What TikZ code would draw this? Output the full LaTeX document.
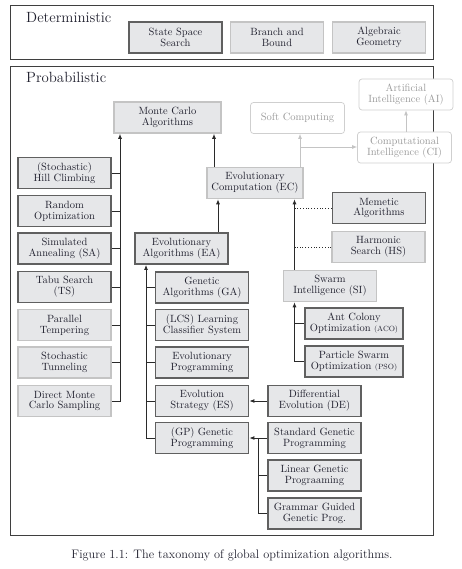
\documentclass[tikz,border=0pt]{standalone}
\usetikzlibrary{arrows.meta,calc}
\definecolor{boxfill}{HTML}{E6E7E9}
\definecolor{darkedge}{HTML}{606060}
\definecolor{lightedge}{HTML}{C4C4C4}
\definecolor{softedge}{HTML}{CFCFCF}
\definecolor{softtext}{HTML}{9A9A9A}
\definecolor{txt}{HTML}{20202E}
\definecolor{linec}{HTML}{2A2A2A}
\begin{document}
\begin{tikzpicture}[x=1pt,y=-1pt,
  base/.style={rectangle, fill=boxfill, align=center, inner sep=0pt, minimum height=31pt, minimum width=93pt, text=txt, font=\fontsize{10.5}{10.9}\selectfont},
  darkbox/.style={base, draw=darkedge, line width=1.8pt},
  lightbox/.style={base, draw=lightedge, line width=1.6pt},
  softbox/.style={rectangle, rounded corners=3pt, fill=white, draw=softedge, line width=0.7pt, align=center, inner sep=0pt, minimum height=31pt, minimum width=94pt, text=softtext, font=\fontsize{10.5}{10.9}\selectfont},
  frame/.style={draw=linec!90, line width=0.8pt},
  heading/.style={font=\fontsize{14.8}{16}\selectfont, text=txt, anchor=west, inner sep=0pt},
  conn/.style={draw=linec, line width=0.9pt},
  arr/.style={conn, -{Latex[length=5pt,width=4pt]}},
  softarr/.style={draw=lightedge, line width=0.9pt, -{Latex[length=5pt,width=4pt]}},
  dotconn/.style={draw=linec, line width=0.8pt, dotted}
]
\useasboundingbox (0,0) rectangle (462,569);
\fill[white] (0,0) rectangle (462,569);

% frames
\draw[frame] (10,5) rectangle (433,59);
\draw[frame] (10,66) rectangle (433,535);
\node[heading] (det) at (26,17.5) {Deterministic};
\node[heading] (prob) at (26,77.5) {Probabilistic};

% deterministic
\node[darkbox] (SSS) at (175.5,37.5) {State Space\\Search};
\node[lightbox] (BB) at (277,37.5) {Branch and\\Bound};
\node[lightbox] (AG) at (379,37.5) {Algebraic\\Geometry};

% soft computing cluster
\node[softbox] (SC) at (297.5,118) {Soft Computing};
\node[softbox] (AI) at (406,94.5) {Artificial\\Intelligence (AI)};
\node[softbox] (CI) at (404.5,147.5) {Computational\\Intelligence (CI)};

% Monte Carlo
\node[lightbox, minimum width=107pt] (MC) at (167.5,117.5) {Monte Carlo\\Algorithms};
\node[darkbox] (HC) at (64.5,173) {(Stochastic)\\Hill Climbing};
\node[darkbox] (RO) at (64.5,211) {Random\\Optimization};
\node[darkbox] (SA) at (64.5,248.5) {Simulated\\Annealing (SA)};
\node[darkbox] (TS) at (64.5,287) {Tabu Search\\(TS)};
\node[lightbox] (PT) at (64.5,325) {Parallel\\Tempering};
\node[lightbox] (ST) at (64.5,362.5) {Stochastic\\Tunneling};
\node[lightbox] (DMC) at (64.5,401) {Direct Monte\\Carlo Sampling};

% EC
\node[lightbox, minimum width=96pt] (EC) at (255,183) {Evolutionary\\Computation (EC)};
\node[darkbox] (EA) at (181.5,248.5) {Evolutionary\\Algorithms (EA)};
\node[darkbox] (MA) at (379,208) {Memetic\\Algorithms};
\node[lightbox] (HS) at (378.5,247) {Harmonic\\Search (HS)};
\node[lightbox] (SI) at (330,286) {Swarm\\Intelligence (SI)};
\node[darkbox, minimum width=98pt] (ACO) at (354,323.5) {Ant Colony\\Optimization {\fontsize{7.5}{8}\selectfont(ACO)}};
\node[darkbox, minimum width=98pt] (PSO) at (354,361.5) {Particle Swarm\\Optimization {\fontsize{7.5}{8}\selectfont(PSO)}};

% EA children
\node[darkbox] (GA) at (202,287.5) {Genetic\\Algorithms (GA)};
\node[darkbox] (LCS) at (202,325) {(LCS) Learning\\Classifier System};
\node[darkbox] (EP) at (202,362.5) {Evolutionary\\Programming};
\node[darkbox] (ES) at (202,401) {Evolution\\Strategy (ES)};
\node[darkbox] (GP) at (202,438) {(GP) Genetic\\Programming};
\node[darkbox] (DE) at (314.5,401) {Differential\\Evolution (DE)};
\node[darkbox] (SGP) at (314.5,438) {Standard Genetic\\Programming};
\node[darkbox] (LGP) at (314.5,475.5) {Linear Genetic\\Prograaming};
\node[darkbox] (GGP) at (314.5,513.5) {Grammar Guided\\Genetic Prog.};

% bus coordinates
\coordinate (mcbus) at (120,0);
\coordinate (ecmc) at (214,0);
\coordinate (eaec) at (218,0);
\coordinate (sibus) at (294.5,0);
\coordinate (eabus) at (146,0);
\coordinate (gpbus) at (258,0);
\coordinate (scbus) at (300,0);
\coordinate (cibus) at (300,147);

% Monte Carlo connectors
\draw[arr] (DMC.east) -| (MC.south -| mcbus);
\foreach \n in {HC,RO,SA,TS,PT,ST} \draw[conn] (\n.east) -- (\n.east -| mcbus);

% EC -> MC, EA -> EC, SI -> EC
\draw[arr] (EC.north -| ecmc) -- (MC.south -| ecmc);
\draw[arr] (EA.north -| eaec) -- (EC.south -| eaec);
\draw[arr] (SI.north -| sibus) -- (EC.south -| sibus);
\draw[dotconn] (MA.west) -- (MA.west -| sibus);
\draw[dotconn] (HS.west) -- (HS.west -| sibus);

% soft computing
\draw[softarr] (EC.north -| scbus) -- (SC.south -| scbus);
\draw[softarr] (cibus) -- (CI.west |- cibus);
\draw[softarr] (CI.north -| AI.south) -- (AI.south);

% SI children
\draw[arr] (PSO.west) -| (SI.south -| sibus);
\draw[conn] (ACO.west) -- (ACO.west -| sibus);

% EA children
\draw[arr] (GP.west) -| (EA.south -| eabus);
\foreach \n in {GA,LCS,EP,ES} \draw[conn] (\n.west) -- (\n.west -| eabus);

% DE -> ES, GP children
\draw[arr] (DE.west) -- (ES.east);
\draw[arr] (SGP.west) -- (GP.east);
\draw[conn] (GGP.west) -| (GP.east -| gpbus);
\draw[conn] (LGP.west) -- (LGP.west -| gpbus);

% caption
\node[font=\fontsize{12.3}{13}\selectfont, text=txt, inner sep=0pt] (cap) at (232,555) {Figure 1.1: The taxonomy of global optimization algorithms.};
\end{tikzpicture}
\end{document}
